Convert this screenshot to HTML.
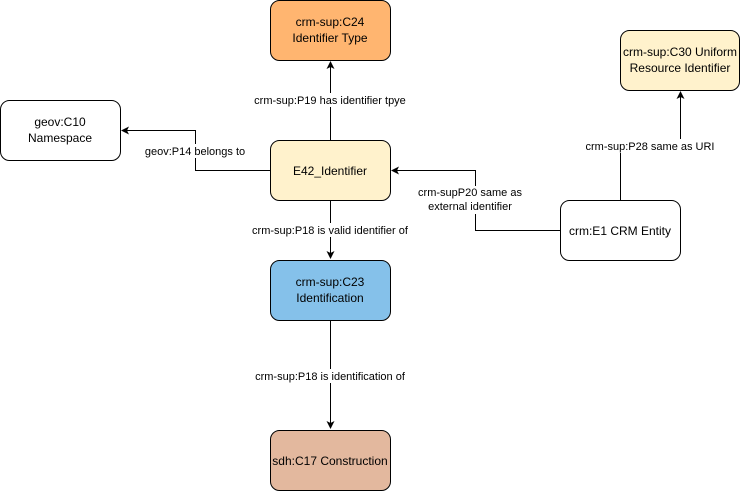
<!DOCTYPE html>
<html><head><style>
body{margin:0;background:#fff;}
svg text{font-family:"Liberation Sans",Helvetica,Arial,sans-serif;font-size:12px;fill:#000;}
.l{font-size:11px;}
</style></head><body>
<svg width="741" height="491" viewBox="0 0 741 491" xmlns="http://www.w3.org/2000/svg">
<defs><marker id="a" markerWidth="8" markerHeight="8" refX="7" refY="4" orient="auto" markerUnits="userSpaceOnUse"><path d="M0,0 L8,4 L0,8 L2,4 Z" fill="#000"/></marker></defs>
<g stroke="#000" fill="none" stroke-width="1">
<path d="M330.5 140 V62" marker-end="url(#a)"/>
<path d="M270 170.5 H195.5 V130.5 H122" marker-end="url(#a)"/>
<path d="M330.5 200 V258" marker-end="url(#a)"/>
<path d="M330.5 320 V428" marker-end="url(#a)"/>
<path d="M560 230.5 H475.5 V170.5 H392" marker-end="url(#a)"/>
<path d="M620.5 200 V140.5 H680.5 V92" marker-end="url(#a)"/>
</g>
<g stroke="#000" stroke-width="1">
<rect x="270.5" y="0.5" width="120" height="60" rx="9" fill="#FFB570"/>
<rect x="0.5" y="100.5" width="120" height="60" rx="9" fill="#fff"/>
<rect x="270.5" y="140.5" width="120" height="60" rx="9" fill="#FFF2CC"/>
<rect x="620.5" y="30.5" width="119" height="60" rx="9" fill="#FFF2CC"/>
<rect x="560.5" y="200.5" width="120" height="60" rx="9" fill="#fff"/>
<rect x="270.5" y="260.5" width="120" height="60" rx="9" fill="#85C1EA"/>
<rect x="270.5" y="430.5" width="120" height="60" rx="9" fill="#E3B89E"/>
</g>
<g text-anchor="middle">
<text x="330" y="26">crm-sup:C24</text><text x="330" y="42">Identifier Type</text>
<text x="60" y="126">geov:C10</text><text x="60" y="142">Namespace</text>
<text x="330" y="175">E42_Identifier</text>
<text x="680" y="56">crm-sup:C30 Uniform</text><text x="680" y="72">Resource Identifier</text>
<text x="620" y="235">crm:E1 CRM Entity</text>
<text x="330" y="286">crm-sup:C23</text><text x="330" y="302">Identification</text>
<text x="330" y="465">sdh:C17 Construction</text>
</g>
<g text-anchor="middle" class="l">
<rect x="248" y="93" width="160" height="14" fill="#fff"/>
<text class="l" x="330" y="104">crm-sup:P19 has identifier tpye</text>
<rect x="143" y="144" width="102" height="14" fill="#fff"/>
<text class="l" x="195" y="155">geov:P14 belongs to</text>
<rect x="250" y="223" width="160" height="14" fill="#fff"/>
<text class="l" x="330" y="234">crm-sup:P18 is valid identifier of</text>
<rect x="418" y="186" width="105" height="28" fill="#fff"/>
<text class="l" x="470" y="196">crm-supP20 same as</text>
<text class="l" x="470" y="210">external identifier</text>
<rect x="582" y="139" width="150" height="14" fill="#fff"/>
<text class="l" x="650" y="150">crm-sup:P28 same as URI</text>
<rect x="250" y="369" width="160" height="14" fill="#fff"/>
<text class="l" x="330" y="380">crm-sup:P18 is identification of</text>
</g>
</svg>
</body></html>
